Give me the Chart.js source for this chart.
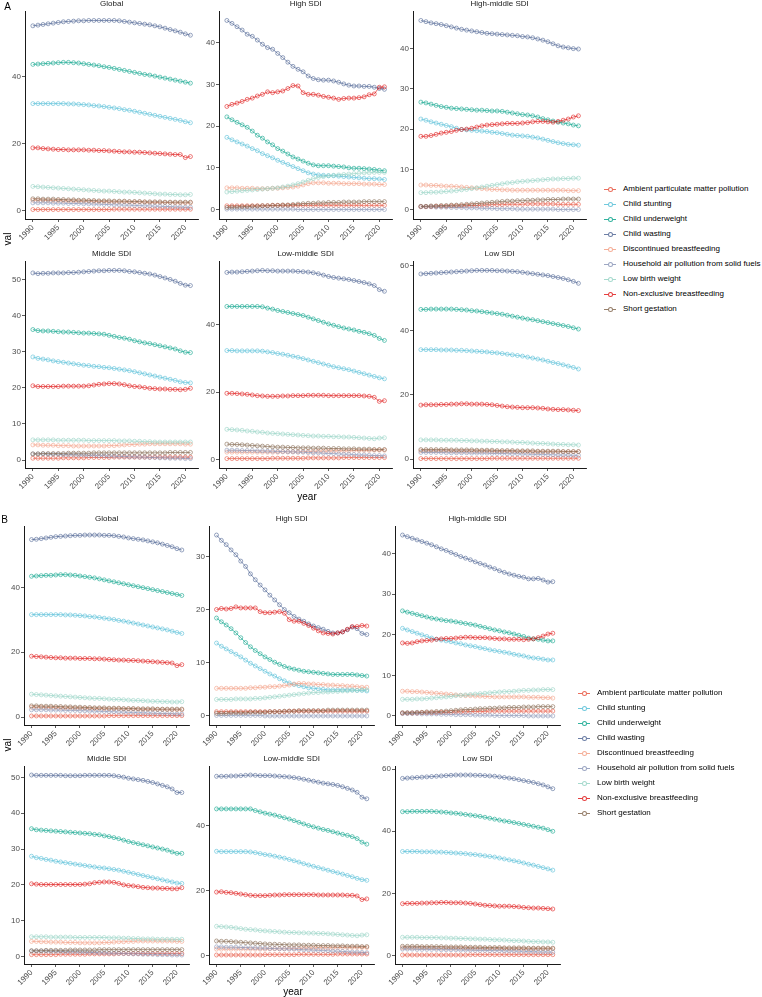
<!DOCTYPE html>
<html><head><meta charset="utf-8">
<script src="https://cdn.jsdelivr.net/npm/chart.js@4/dist/chart.umd.min.js"></script>
<style>
html,body{margin:0;padding:0;background:#fff;}
body{width:762px;height:997px;position:relative;overflow:hidden;font-family:"Liberation Sans",Arial,Helvetica,sans-serif;}
canvas{position:absolute;}
.txt{position:absolute;white-space:nowrap;color:#000;}
</style></head><body>
<script>
// ---------- data ----------
const years=[1990,1991,1992,1993,1994,1995,1996,1997,1998,1999,2000,2001,2002,2003,2004,2005,2006,2007,2008,2009,2010,2011,2012,2013,2014,2015,2016,2017,2018,2019,2020,2021];
const causes=["Ambient particulate matter pollution","Child stunting","Child underweight","Child wasting","Discontinued breastfeeding","Household air pollution from solid fuels","Low birth weight","Non-exclusive breastfeeding","Short gestation"];
const colors=["rgba(230,75,53,0.8)","rgba(77,187,213,0.8)","rgba(0,160,135,0.8)","rgba(60,84,136,0.75)","rgba(243,155,127,0.8)","rgba(132,145,180,0.8)","rgba(145,209,194,0.8)","rgba(220,0,0,0.75)","rgba(126,97,72,0.8)"];
const facetNames=["Global","High SDI","High-middle SDI","Middle SDI","Low-middle SDI","Low SDI"];
const yTickStepA=[20,10,10,10,20,20];
const yTickStepB=[20,10,10,10,20,20];
const xTicks=[1990,1995,2000,2005,2010,2015,2020];

// order of rows in each facet array = order of causes
const A_Global=[
[0.4,0.4,0.4,0.4,0.4,0.4,0.4,0.4,0.4,0.4,0.4,0.4,0.4,0.4,0.4,0.4,0.5,0.5,0.5,0.5,0.5,0.5,0.5,0.5,0.5,0.5,0.5,0.5,0.5,0.5,0.5,0.5],
[32.0,32.0,32.0,32.0,32.0,32.0,32.0,31.9,31.9,31.8,31.7,31.6,31.4,31.3,31.1,30.9,30.7,30.5,30.2,30.0,29.7,29.4,29.1,28.8,28.5,28.2,27.9,27.6,27.3,27.0,26.6,26.3],
[43.7,43.8,43.9,44.0,44.1,44.2,44.3,44.3,44.2,44.1,43.9,43.7,43.5,43.3,43.0,42.8,42.5,42.2,41.9,41.6,41.3,41.0,40.7,40.5,40.2,39.9,39.6,39.3,39.0,38.7,38.4,38.1],
[55.2,55.4,55.6,55.8,56.0,56.2,56.4,56.5,56.6,56.7,56.7,56.8,56.8,56.8,56.8,56.8,56.8,56.7,56.5,56.3,56.1,55.9,55.7,55.5,55.2,54.9,54.5,54.1,53.7,53.3,52.8,52.4],
[3.2,3.2,3.2,3.1,3.1,3.1,3.0,3.0,3.0,2.9,2.9,2.9,2.8,2.8,2.8,2.7,2.7,2.7,2.7,2.6,2.6,2.6,2.6,2.5,2.5,2.5,2.5,2.5,2.4,2.4,2.4,2.4],
[2.4,2.4,2.4,2.4,2.3,2.3,2.3,2.2,2.2,2.2,2.1,2.1,2.0,2.0,1.9,1.9,1.8,1.8,1.7,1.7,1.6,1.6,1.5,1.5,1.4,1.4,1.3,1.3,1.2,1.2,1.1,1.1],
[7.3,7.2,7.1,7.0,6.9,6.8,6.7,6.6,6.5,6.4,6.3,6.2,6.1,6.0,5.9,5.9,5.8,5.7,5.6,5.6,5.5,5.4,5.3,5.2,5.1,5.0,5.0,4.9,4.9,4.8,4.8,4.9],
[18.8,18.8,18.6,18.5,18.4,18.3,18.3,18.2,18.2,18.2,18.2,18.1,18.1,18.0,18.0,17.9,17.8,17.7,17.6,17.6,17.5,17.5,17.4,17.3,17.2,17.1,17.0,16.9,16.8,16.8,15.9,16.2],
[3.6,3.6,3.5,3.5,3.5,3.4,3.4,3.3,3.3,3.2,3.2,3.1,3.1,3.0,3.0,3.0,2.9,2.9,2.9,2.8,2.8,2.8,2.7,2.7,2.7,2.7,2.6,2.6,2.6,2.6,2.6,2.6]];
const A_High=[
[0.9,0.9,0.9,0.9,0.9,0.9,0.9,0.9,0.9,1.0,1.0,1.0,1.0,1.0,1.0,1.0,1.0,1.0,1.0,1.0,1.0,1.0,1.0,1.0,1.0,1.0,1.0,1.0,1.0,1.0,1.0,1.0],
[17.3,16.7,16.2,15.7,15.2,14.6,14.1,13.4,12.9,12.4,11.8,11.3,10.8,10.3,9.8,9.3,8.8,8.5,8.3,8.2,8.1,8.1,8.0,7.9,7.8,7.7,7.6,7.5,7.4,7.4,7.3,7.2],
[22.2,21.5,20.9,20.3,19.7,18.8,17.8,17.1,16.2,15.5,14.6,14.0,13.3,12.6,12.1,11.6,11.1,10.7,10.5,10.5,10.5,10.4,10.3,10.2,10.0,9.9,9.9,9.8,9.7,9.6,9.4,9.3],
[45.3,44.6,43.8,43.0,42.0,41.5,40.6,39.6,38.8,38.4,37.4,36.4,35.3,34.3,33.6,33.0,32.0,31.4,31.1,31.0,31.0,30.8,30.5,30.1,29.8,29.6,29.6,29.5,29.5,29.3,29.0,28.8],
[5.2,5.2,5.2,5.1,5.1,5.1,5.0,5.0,5.0,5.1,5.1,5.2,5.3,5.4,5.6,5.9,6.2,6.4,6.4,6.4,6.3,6.3,6.3,6.2,6.2,6.2,6.2,6.1,6.1,6.1,6.0,6.0],
[0.1,0.1,0.1,0.1,0.1,0.1,0.1,0.1,0.1,0.1,0.1,0.1,0.1,0.1,0.0,0.0,0.0,0.0,0.0,0.0,0.0,0.0,0.0,0.0,0.0,0.0,0.0,0.0,0.0,0.0,0.0,0.0],
[4.2,4.3,4.4,4.5,4.6,4.7,4.8,4.9,5.0,5.1,5.2,5.4,5.6,5.9,6.2,6.6,7.0,7.4,7.7,7.9,8.1,8.2,8.3,8.4,8.5,8.6,8.7,8.8,8.8,8.9,8.9,8.9],
[24.7,25.2,25.5,25.9,26.4,26.7,27.2,27.6,28.2,28.0,28.2,28.4,29.0,29.7,29.6,28.0,27.6,27.6,27.4,27.1,26.9,26.7,26.4,26.6,26.7,26.7,26.8,27.0,27.5,27.7,29.3,29.4],
[0.5,0.6,0.6,0.7,0.7,0.8,0.8,0.9,0.9,1.0,1.0,1.1,1.1,1.2,1.3,1.4,1.5,1.5,1.6,1.6,1.7,1.7,1.7,1.8,1.8,1.8,1.8,1.9,1.9,1.9,1.9,1.9]];
const A_HighMiddle=[
[0.7,0.7,0.7,0.8,0.8,0.8,0.9,0.9,0.9,1.0,1.0,1.0,1.1,1.1,1.2,1.2,1.2,1.3,1.3,1.3,1.3,1.4,1.4,1.4,1.4,1.4,1.4,1.3,1.3,1.3,1.3,1.3],
[22.5,22.2,21.8,21.5,21.2,20.9,20.6,20.2,19.9,19.8,19.7,19.6,19.5,19.4,19.2,19.1,18.9,18.7,18.5,18.4,18.3,18.2,18.0,17.8,17.5,17.2,16.9,16.6,16.4,16.2,16.1,16.0],
[26.7,26.5,26.2,25.9,25.6,25.4,25.2,25.1,25.0,24.9,24.8,24.7,24.7,24.6,24.5,24.5,24.4,24.2,24.0,23.8,23.6,23.5,23.3,23.0,22.6,22.3,22.0,21.7,21.5,21.3,21.0,20.8],
[47.0,46.7,46.4,46.2,46.0,45.7,45.4,45.1,44.8,44.6,44.4,44.2,44.0,43.8,43.7,43.6,43.5,43.4,43.3,43.2,43.0,42.9,42.7,42.4,42.1,41.7,41.2,40.7,40.4,40.2,40.0,39.9],
[6.1,6.1,6.0,6.0,5.9,5.8,5.8,5.7,5.6,5.5,5.4,5.3,5.2,5.1,5.0,5.0,4.9,4.9,4.8,4.8,4.8,4.8,4.8,4.8,4.8,4.8,4.8,4.8,4.8,4.7,4.7,4.7],
[0.7,0.7,0.7,0.6,0.6,0.6,0.5,0.5,0.5,0.4,0.4,0.4,0.3,0.3,0.3,0.2,0.2,0.2,0.2,0.1,0.1,0.1,0.1,0.1,0.1,0.1,0.1,0.0,0.0,0.0,0.0,0.0],
[4.2,4.2,4.3,4.3,4.4,4.5,4.6,4.7,4.9,5.0,5.2,5.4,5.6,5.8,6.0,6.2,6.4,6.6,6.7,6.9,7.0,7.1,7.2,7.3,7.4,7.5,7.6,7.6,7.7,7.7,7.8,7.8],
[18.2,18.2,18.4,18.7,19.0,19.2,19.4,19.7,19.9,20.0,20.2,20.5,20.8,21.0,21.1,21.2,21.3,21.4,21.4,21.4,21.5,21.6,21.8,21.9,21.9,21.8,21.7,21.9,22.2,22.5,23.0,23.3],
[0.8,0.8,0.9,0.9,1.0,1.0,1.1,1.1,1.2,1.3,1.4,1.5,1.6,1.7,1.8,1.9,2.0,2.1,2.1,2.2,2.2,2.3,2.3,2.4,2.4,2.5,2.5,2.5,2.6,2.6,2.6,2.6]];
const A_Middle=[
[0.5,0.5,0.5,0.5,0.5,0.5,0.6,0.6,0.6,0.6,0.6,0.7,0.7,0.7,0.7,0.7,0.8,0.8,0.8,0.8,0.8,0.8,0.8,0.8,0.8,0.8,0.8,0.8,0.8,0.8,0.8,0.8],
[28.6,28.2,28.0,27.8,27.5,27.3,27.1,26.9,26.7,26.5,26.3,26.2,26.0,25.9,25.7,25.6,25.4,25.2,25.0,24.8,24.5,24.2,23.9,23.6,23.3,23.0,22.7,22.4,22.1,21.7,21.5,21.4],
[36.2,35.9,35.8,35.8,35.7,35.6,35.5,35.5,35.4,35.3,35.2,35.2,35.1,35.0,34.9,34.6,34.3,34.0,33.8,33.5,33.1,32.8,32.5,32.3,32.0,31.7,31.4,31.1,30.8,30.3,29.9,29.8],
[51.9,51.7,51.8,51.8,51.9,51.9,51.9,52.0,52.0,52.1,52.2,52.3,52.4,52.5,52.5,52.6,52.6,52.6,52.5,52.3,52.2,52.0,51.8,51.6,51.3,50.9,50.5,50.1,49.6,49.0,48.5,48.4],
[4.2,4.2,4.1,4.1,4.1,4.0,4.0,4.0,3.9,3.9,3.9,3.9,3.9,3.9,3.9,4.0,4.0,4.1,4.2,4.3,4.3,4.4,4.4,4.5,4.5,4.5,4.5,4.5,4.5,4.5,4.4,4.4],
[1.7,1.7,1.7,1.6,1.6,1.6,1.5,1.5,1.5,1.4,1.4,1.3,1.3,1.2,1.2,1.1,1.1,1.0,1.0,0.9,0.9,0.8,0.8,0.7,0.7,0.6,0.6,0.5,0.5,0.5,0.4,0.4],
[5.6,5.6,5.6,5.6,5.6,5.5,5.5,5.5,5.5,5.5,5.5,5.4,5.4,5.4,5.4,5.4,5.4,5.3,5.3,5.3,5.2,5.2,5.1,5.1,5.0,5.0,5.0,5.0,5.0,5.0,5.0,5.0],
[20.6,20.4,20.4,20.4,20.4,20.4,20.5,20.5,20.5,20.5,20.5,20.6,20.8,21.0,21.1,21.2,21.2,21.1,20.9,20.6,20.4,20.3,20.1,19.9,19.8,19.7,19.7,19.6,19.6,19.5,19.6,19.9],
[1.7,1.7,1.8,1.8,1.8,1.8,1.8,1.9,1.9,1.9,1.9,1.9,2.0,2.0,2.0,2.0,2.0,2.0,2.0,2.0,2.0,2.0,2.0,2.0,2.0,2.0,2.0,2.1,2.1,2.1,2.1,2.1]];
const A_LowMiddle=[
[0.3,0.3,0.3,0.3,0.3,0.3,0.3,0.3,0.3,0.4,0.4,0.4,0.4,0.4,0.4,0.4,0.5,0.5,0.5,0.5,0.5,0.5,0.5,0.6,0.6,0.6,0.6,0.6,0.6,0.6,0.6,0.6],
[32.4,32.4,32.3,32.3,32.3,32.3,32.3,32.2,32.0,31.8,31.5,31.3,31.0,30.7,30.4,30.0,29.6,29.2,28.8,28.4,28.0,27.6,27.3,27.0,26.7,26.3,25.9,25.5,25.1,24.7,24.3,24.0],
[45.5,45.5,45.5,45.5,45.5,45.5,45.5,45.4,45.0,44.7,44.3,44.0,43.7,43.4,43.1,42.8,42.3,41.8,41.3,40.8,40.3,39.9,39.5,39.1,38.8,38.5,38.1,37.8,37.4,36.9,36.0,35.4],
[55.6,55.7,55.7,55.8,55.9,56.0,56.1,56.2,56.1,56.1,56.0,56.0,56.0,56.0,55.9,55.8,55.7,55.5,55.2,54.8,54.4,54.1,53.9,53.7,53.5,53.2,52.9,52.6,52.2,51.7,50.5,50.0],
[2.2,2.2,2.2,2.2,2.2,2.2,2.2,2.2,2.2,2.2,2.2,2.3,2.3,2.3,2.3,2.4,2.4,2.4,2.5,2.5,2.5,2.6,2.6,2.6,2.6,2.7,2.7,2.7,2.7,2.8,2.8,2.8],
[2.8,2.8,2.8,2.7,2.7,2.7,2.6,2.6,2.5,2.5,2.4,2.4,2.3,2.3,2.2,2.2,2.1,2.0,2.0,1.9,1.8,1.8,1.7,1.6,1.6,1.5,1.4,1.4,1.3,1.2,1.2,1.1],
[9.0,8.9,8.8,8.7,8.5,8.4,8.2,8.1,7.9,7.8,7.7,7.6,7.5,7.4,7.3,7.2,7.1,7.0,7.0,6.9,6.9,6.8,6.8,6.7,6.7,6.6,6.5,6.4,6.3,6.2,6.4,6.5],
[19.7,19.7,19.6,19.5,19.4,19.2,19.0,18.9,18.8,18.8,18.8,18.9,18.9,19.0,19.0,19.0,19.1,19.1,19.1,19.1,19.0,19.0,19.0,19.0,19.0,19.0,19.0,18.9,18.8,18.5,17.3,17.5],
[4.6,4.5,4.5,4.4,4.3,4.2,4.1,4.0,3.9,3.8,3.7,3.7,3.6,3.6,3.5,3.5,3.5,3.4,3.4,3.4,3.3,3.3,3.3,3.2,3.2,3.2,3.1,3.1,3.1,3.0,3.0,3.0]];
const A_Low=[
[0.2,0.2,0.2,0.2,0.2,0.2,0.2,0.2,0.2,0.2,0.2,0.2,0.2,0.2,0.3,0.3,0.3,0.3,0.3,0.3,0.3,0.3,0.3,0.3,0.3,0.3,0.3,0.3,0.3,0.3,0.3,0.3],
[34.0,34.0,34.0,34.0,33.9,33.9,33.9,33.8,33.8,33.7,33.6,33.5,33.4,33.3,33.1,33.0,32.8,32.6,32.4,32.2,32.0,31.7,31.4,31.1,30.8,30.4,30.0,29.7,29.3,28.9,28.5,28.0],
[46.5,46.5,46.6,46.6,46.6,46.6,46.6,46.5,46.4,46.3,46.1,46.0,45.8,45.6,45.4,45.2,45.0,44.7,44.4,44.1,43.8,43.5,43.3,43.0,42.7,42.4,42.1,41.8,41.5,41.2,40.8,40.4],
[57.5,57.6,57.7,57.8,57.9,58.0,58.1,58.2,58.3,58.4,58.5,58.6,58.6,58.6,58.6,58.5,58.5,58.4,58.3,58.2,58.0,57.8,57.6,57.4,57.2,57.0,56.7,56.4,56.1,55.7,55.2,54.6],
[2.6,2.6,2.6,2.6,2.6,2.6,2.6,2.5,2.5,2.5,2.5,2.5,2.5,2.5,2.4,2.4,2.4,2.4,2.4,2.4,2.4,2.4,2.3,2.3,2.3,2.3,2.3,2.3,2.3,2.3,2.3,2.3],
[2.1,2.1,2.1,2.1,2.1,2.0,2.0,2.0,2.0,2.0,1.9,1.9,1.9,1.9,1.8,1.8,1.8,1.7,1.7,1.7,1.6,1.6,1.5,1.5,1.5,1.4,1.4,1.3,1.3,1.3,1.2,1.2],
[6.0,6.0,6.0,6.0,5.9,5.9,5.9,5.9,5.8,5.8,5.7,5.7,5.6,5.6,5.5,5.5,5.4,5.4,5.3,5.2,5.2,5.1,5.0,4.9,4.9,4.8,4.7,4.6,4.6,4.5,4.5,4.4],
[16.8,16.9,16.9,16.9,17.0,17.0,17.1,17.1,17.2,17.2,17.1,17.1,17.1,17.0,16.9,16.7,16.5,16.3,16.2,16.1,16.0,16.0,16.0,15.9,15.8,15.6,15.5,15.4,15.4,15.3,15.2,15.1],
[3.0,3.0,3.0,3.0,3.0,3.0,2.9,2.9,2.9,2.9,2.9,2.8,2.8,2.8,2.8,2.7,2.7,2.7,2.7,2.6,2.6,2.6,2.6,2.5,2.5,2.5,2.5,2.5,2.4,2.4,2.4,2.4]];

const B_Global=[
[0.4,0.4,0.4,0.4,0.4,0.4,0.4,0.4,0.4,0.4,0.4,0.4,0.4,0.4,0.4,0.4,0.5,0.5,0.5,0.5,0.5,0.5,0.5,0.5,0.5,0.5,0.5,0.5,0.5,0.5,0.5,0.5],
[31.6,31.6,31.6,31.6,31.6,31.6,31.6,31.5,31.5,31.4,31.3,31.2,31.0,30.9,30.7,30.5,30.3,30.1,29.8,29.6,29.3,29.0,28.7,28.4,28.1,27.8,27.5,27.2,26.9,26.5,26.1,25.8],
[43.4,43.5,43.6,43.7,43.7,43.8,43.9,43.9,43.8,43.7,43.5,43.3,43.1,42.9,42.6,42.3,42.0,41.7,41.4,41.1,40.8,40.5,40.2,39.9,39.6,39.3,39.0,38.7,38.4,38.1,37.8,37.5],
[54.7,54.8,55.0,55.2,55.4,55.6,55.7,55.8,55.9,56.0,56.0,56.1,56.1,56.1,56.1,56.0,56.0,55.9,55.7,55.5,55.2,55.0,54.8,54.6,54.3,54.0,53.7,53.3,52.9,52.5,51.9,51.5],
[3.1,3.1,3.1,3.0,3.0,3.0,2.9,2.9,2.9,2.8,2.8,2.8,2.7,2.7,2.7,2.6,2.6,2.6,2.6,2.5,2.5,2.5,2.5,2.4,2.4,2.4,2.4,2.4,2.3,2.3,2.3,2.3],
[2.3,2.3,2.3,2.3,2.2,2.2,2.2,2.1,2.1,2.1,2.0,2.0,1.9,1.9,1.8,1.8,1.7,1.7,1.6,1.6,1.5,1.5,1.4,1.4,1.3,1.3,1.2,1.2,1.1,1.1,1.0,1.0],
[7.1,7.0,6.9,6.8,6.7,6.6,6.5,6.4,6.3,6.2,6.1,6.0,5.9,5.8,5.8,5.7,5.6,5.5,5.5,5.4,5.3,5.2,5.2,5.1,5.0,4.9,4.9,4.8,4.8,4.7,4.7,4.8],
[18.8,18.7,18.6,18.5,18.4,18.3,18.3,18.2,18.2,18.2,18.1,18.1,18.1,18.0,18.0,17.9,17.8,17.7,17.6,17.6,17.5,17.5,17.4,17.3,17.2,17.1,17.0,16.9,16.8,16.7,15.9,16.2],
[3.5,3.5,3.4,3.4,3.4,3.3,3.3,3.2,3.2,3.1,3.1,3.0,3.0,2.9,2.9,2.9,2.8,2.8,2.8,2.7,2.7,2.7,2.6,2.6,2.6,2.6,2.5,2.5,2.5,2.5,2.5,2.5]];
const B_High=[
[0.8,0.8,0.8,0.8,0.8,0.8,0.8,0.8,0.8,0.8,0.8,0.8,0.8,0.8,0.8,0.9,0.9,0.9,0.9,0.9,0.9,0.9,0.9,0.9,0.9,0.9,0.9,0.9,0.9,0.9,0.9,0.9],
[13.7,13.1,12.6,12.1,11.6,11.1,10.5,9.9,9.4,8.9,8.4,7.9,7.5,7.0,6.6,6.2,5.9,5.7,5.5,5.3,5.2,5.1,5.0,4.9,4.9,4.9,4.9,4.9,4.9,4.8,4.8,4.7],
[18.4,17.7,17.1,16.4,15.6,14.7,13.8,13.0,12.3,11.7,11.1,10.6,10.1,9.7,9.3,9.0,8.8,8.6,8.4,8.3,8.2,8.1,8.0,7.9,7.8,7.8,7.8,7.8,7.8,7.7,7.6,7.5],
[34.0,33.0,32.2,31.2,30.3,29.1,28.1,26.7,25.6,24.6,23.7,22.7,21.8,20.9,20.0,19.4,18.7,18.2,17.8,17.3,16.9,16.6,16.3,15.9,15.6,15.6,15.8,16.2,16.7,16.4,15.5,15.3],
[5.2,5.2,5.2,5.2,5.2,5.2,5.2,5.3,5.3,5.4,5.4,5.5,5.5,5.6,5.7,5.8,6.0,6.1,6.1,6.0,6.0,5.9,5.9,5.8,5.8,5.7,5.7,5.6,5.6,5.5,5.4,5.4],
[0.1,0.1,0.1,0.1,0.1,0.1,0.1,0.1,0.1,0.1,0.0,0.0,0.0,0.0,0.0,0.0,0.0,0.0,0.0,0.0,0.0,0.0,0.0,0.0,0.0,0.0,0.0,0.0,0.0,0.0,0.0,0.0],
[3.1,3.1,3.1,3.1,3.2,3.2,3.2,3.2,3.3,3.3,3.4,3.5,3.6,3.7,3.8,3.9,4.0,4.1,4.2,4.3,4.4,4.4,4.5,4.5,4.6,4.6,4.7,4.7,4.8,4.8,4.9,4.9],
[20.0,20.2,20.1,20.2,20.5,20.3,20.3,20.3,20.3,19.6,19.4,19.4,19.5,19.6,19.3,18.1,17.8,17.8,17.4,17.0,16.5,16.0,15.6,15.5,15.4,15.6,15.8,16.3,16.8,16.8,17.0,16.9],
[0.5,0.5,0.5,0.6,0.6,0.6,0.6,0.7,0.7,0.7,0.7,0.8,0.8,0.8,0.9,0.9,0.9,1.0,1.0,1.0,1.0,1.0,1.0,1.1,1.1,1.1,1.1,1.1,1.1,1.1,1.1,1.1]];
const B_HighMiddle=[
[0.7,0.7,0.7,0.7,0.8,0.8,0.8,0.8,0.9,0.9,0.9,1.0,1.0,1.0,1.1,1.1,1.1,1.1,1.2,1.2,1.2,1.2,1.2,1.2,1.2,1.2,1.2,1.2,1.2,1.2,1.2,1.2],
[21.6,21.2,20.8,20.4,20.0,19.6,19.2,18.9,18.7,18.5,18.3,18.0,17.8,17.5,17.3,17.1,16.8,16.6,16.3,16.1,15.9,15.7,15.5,15.2,15.0,14.8,14.5,14.3,14.2,14.0,13.8,13.8],
[25.9,25.6,25.3,25.0,24.7,24.4,24.1,23.9,23.7,23.5,23.4,23.2,23.0,22.8,22.6,22.4,22.1,21.8,21.5,21.2,21.0,20.7,20.5,20.2,19.9,19.6,19.2,19.0,18.9,18.7,18.5,18.5],
[44.6,44.2,43.8,43.4,43.0,42.6,42.2,41.7,41.2,40.8,40.3,39.8,39.3,38.9,38.5,38.0,37.6,37.2,36.7,36.3,35.8,35.4,35.0,34.7,34.4,34.2,33.8,33.8,33.9,33.5,33.0,33.1],
[6.1,6.1,6.0,6.0,5.9,5.8,5.7,5.6,5.5,5.4,5.3,5.2,5.1,5.0,5.0,4.9,4.9,4.8,4.8,4.7,4.7,4.7,4.7,4.7,4.7,4.7,4.6,4.6,4.6,4.5,4.5,4.4],
[0.6,0.6,0.6,0.6,0.5,0.5,0.5,0.5,0.4,0.4,0.4,0.3,0.3,0.3,0.3,0.2,0.2,0.2,0.2,0.1,0.1,0.1,0.1,0.1,0.1,0.1,0.0,0.0,0.0,0.0,0.0,0.0],
[4.1,4.1,4.1,4.2,4.2,4.3,4.4,4.5,4.6,4.7,4.8,5.0,5.1,5.2,5.3,5.4,5.5,5.6,5.7,5.8,5.9,6.0,6.0,6.1,6.2,6.3,6.3,6.4,6.4,6.5,6.5,6.5],
[18.0,17.9,18.0,18.3,18.5,18.6,18.7,18.9,19.0,19.1,19.1,19.2,19.3,19.4,19.4,19.3,19.3,19.3,19.2,19.1,19.0,19.0,18.9,18.9,18.9,18.8,18.9,19.0,19.3,19.7,20.2,20.4],
[0.8,0.8,0.8,0.9,0.9,1.0,1.0,1.1,1.1,1.2,1.3,1.4,1.5,1.6,1.6,1.7,1.8,1.8,1.9,1.9,2.0,2.0,2.1,2.1,2.1,2.2,2.2,2.2,2.3,2.3,2.3,2.3]];
const B_Middle=[
[0.5,0.5,0.5,0.5,0.5,0.5,0.6,0.6,0.6,0.6,0.6,0.6,0.7,0.7,0.7,0.7,0.7,0.7,0.8,0.8,0.8,0.8,0.8,0.8,0.8,0.8,0.8,0.8,0.8,0.8,0.8,0.8],
[28.0,27.6,27.4,27.1,26.9,26.6,26.4,26.2,26.0,25.8,25.6,25.4,25.2,25.0,24.8,24.7,24.5,24.3,24.1,23.8,23.5,23.2,22.9,22.6,22.3,22.0,21.7,21.4,21.1,20.8,20.5,20.4],
[35.7,35.4,35.3,35.2,35.1,35.0,34.9,34.8,34.7,34.6,34.5,34.4,34.3,34.1,34.0,33.7,33.5,33.2,32.9,32.5,32.1,31.8,31.5,31.2,30.9,30.6,30.3,30.0,29.7,29.2,28.8,28.8],
[50.7,50.6,50.6,50.6,50.6,50.6,50.6,50.5,50.5,50.5,50.5,50.6,50.6,50.6,50.6,50.6,50.6,50.5,50.3,50.1,49.8,49.6,49.4,49.2,48.9,48.6,48.2,47.8,47.4,46.8,45.8,45.8],
[4.2,4.2,4.1,4.1,4.0,4.0,4.0,3.9,3.9,3.9,3.8,3.8,3.8,3.8,3.8,3.9,3.9,4.0,4.1,4.1,4.2,4.2,4.3,4.3,4.3,4.3,4.3,4.3,4.3,4.3,4.2,4.2],
[1.5,1.5,1.5,1.5,1.4,1.4,1.4,1.3,1.3,1.3,1.2,1.2,1.1,1.1,1.0,1.0,0.9,0.9,0.9,0.8,0.8,0.7,0.7,0.6,0.6,0.6,0.5,0.5,0.5,0.4,0.4,0.4],
[5.5,5.5,5.5,5.5,5.4,5.4,5.4,5.4,5.4,5.3,5.3,5.3,5.3,5.3,5.3,5.3,5.2,5.2,5.2,5.1,5.1,5.0,5.0,4.9,4.9,4.9,4.8,4.8,4.8,4.8,4.8,4.8],
[20.3,20.2,20.1,20.1,20.1,20.1,20.1,20.1,20.1,20.1,20.1,20.2,20.3,20.6,20.7,20.8,20.8,20.7,20.4,20.0,19.8,19.7,19.5,19.3,19.2,19.1,19.1,19.0,19.0,18.9,18.9,19.2],
[1.6,1.6,1.6,1.7,1.7,1.7,1.7,1.7,1.8,1.8,1.8,1.8,1.8,1.8,1.9,1.9,1.9,1.9,1.9,1.9,1.9,1.9,1.9,1.9,1.9,1.9,1.9,1.9,1.9,1.9,1.9,1.9]];
const B_LowMiddle=[
[0.3,0.3,0.3,0.3,0.3,0.3,0.3,0.3,0.3,0.3,0.4,0.4,0.4,0.4,0.4,0.4,0.4,0.5,0.5,0.5,0.5,0.5,0.5,0.5,0.5,0.6,0.6,0.6,0.6,0.6,0.6,0.6],
[32.1,32.0,32.0,32.0,32.0,32.0,32.0,31.9,31.7,31.4,31.1,30.9,30.6,30.3,30.0,29.6,29.2,28.8,28.3,27.9,27.5,27.1,26.7,26.3,25.9,25.5,25.1,24.7,24.3,23.8,23.4,23.2],
[45.1,45.1,45.1,45.1,45.1,45.1,45.1,45.1,44.6,44.2,43.8,43.5,43.2,42.8,42.4,42.0,41.5,41.0,40.5,40.0,39.6,39.2,38.8,38.5,38.1,37.7,37.3,37.0,36.6,36.0,34.9,34.3],
[55.1,55.1,55.1,55.2,55.2,55.3,55.4,55.5,55.4,55.3,55.3,55.3,55.2,55.1,55.0,54.9,54.7,54.5,54.2,53.9,53.6,53.3,53.0,52.8,52.6,52.3,51.9,51.4,50.9,50.2,48.7,48.2],
[2.1,2.1,2.1,2.1,2.1,2.1,2.1,2.1,2.1,2.1,2.1,2.2,2.2,2.2,2.2,2.3,2.3,2.3,2.4,2.4,2.4,2.5,2.5,2.5,2.5,2.6,2.6,2.6,2.6,2.6,2.6,2.6],
[2.8,2.8,2.7,2.7,2.7,2.6,2.6,2.5,2.5,2.4,2.4,2.3,2.3,2.2,2.2,2.1,2.1,2.0,1.9,1.9,1.8,1.7,1.7,1.6,1.5,1.5,1.4,1.3,1.2,1.2,1.1,1.0],
[9.1,9.0,8.9,8.8,8.6,8.4,8.2,8.1,8.0,7.8,7.7,7.6,7.5,7.4,7.3,7.2,7.2,7.1,7.1,7.0,7.0,6.9,6.9,6.8,6.7,6.6,6.5,6.4,6.3,6.2,6.4,6.5],
[19.6,19.7,19.5,19.4,19.2,19.0,18.8,18.6,18.5,18.5,18.5,18.6,18.7,18.7,18.8,18.8,18.8,18.8,18.8,18.8,18.8,18.7,18.7,18.7,18.7,18.7,18.7,18.6,18.6,18.4,17.3,17.5],
[4.6,4.5,4.5,4.4,4.3,4.2,4.1,4.0,3.9,3.8,3.7,3.6,3.6,3.5,3.5,3.4,3.4,3.4,3.3,3.3,3.3,3.2,3.2,3.2,3.1,3.1,3.1,3.0,3.0,3.0,2.9,2.9]];
const B_Low=[
[0.2,0.2,0.2,0.2,0.2,0.2,0.2,0.2,0.2,0.2,0.2,0.2,0.2,0.2,0.3,0.3,0.3,0.3,0.3,0.3,0.3,0.3,0.3,0.3,0.3,0.3,0.3,0.3,0.3,0.3,0.3,0.3],
[33.5,33.5,33.5,33.5,33.4,33.4,33.4,33.3,33.3,33.2,33.1,33.0,32.9,32.8,32.6,32.5,32.3,32.1,31.9,31.7,31.4,31.1,30.8,30.5,30.2,29.8,29.4,29.1,28.7,28.3,27.9,27.5],
[46.3,46.3,46.4,46.4,46.4,46.4,46.4,46.3,46.2,46.1,45.9,45.8,45.6,45.4,45.2,45.0,44.8,44.5,44.2,43.9,43.6,43.3,43.1,42.8,42.5,42.2,41.9,41.6,41.3,41.0,40.5,40.0],
[57.0,57.1,57.2,57.3,57.4,57.5,57.6,57.7,57.8,57.9,58.0,58.1,58.1,58.1,58.1,58.0,58.0,57.9,57.8,57.7,57.5,57.3,57.1,56.9,56.6,56.3,56.0,55.7,55.3,54.9,54.3,53.7],
[2.5,2.5,2.5,2.5,2.5,2.5,2.5,2.4,2.4,2.4,2.4,2.4,2.4,2.4,2.3,2.3,2.3,2.3,2.3,2.3,2.3,2.3,2.2,2.2,2.2,2.2,2.2,2.2,2.2,2.2,2.2,2.2],
[2.1,2.1,2.1,2.0,2.0,2.0,2.0,2.0,1.9,1.9,1.9,1.9,1.8,1.8,1.8,1.7,1.7,1.7,1.6,1.6,1.6,1.5,1.5,1.5,1.4,1.4,1.3,1.3,1.2,1.2,1.2,1.1],
[5.9,5.9,5.9,5.9,5.8,5.8,5.8,5.8,5.7,5.7,5.6,5.6,5.5,5.5,5.4,5.4,5.3,5.3,5.2,5.1,5.1,5.0,4.9,4.8,4.8,4.7,4.6,4.5,4.5,4.4,4.4,4.3],
[16.7,16.8,16.8,16.8,16.9,16.9,17.0,17.0,17.1,17.1,17.0,17.0,17.0,16.9,16.8,16.6,16.4,16.2,16.1,16.0,15.9,15.9,15.9,15.8,15.7,15.5,15.4,15.3,15.3,15.2,15.1,15.0],
[3.0,3.0,3.0,3.0,2.9,2.9,2.9,2.9,2.9,2.8,2.8,2.8,2.8,2.7,2.7,2.7,2.7,2.6,2.6,2.6,2.6,2.5,2.5,2.5,2.5,2.5,2.4,2.4,2.4,2.4,2.4,2.4]];

// ---------- layout (positions/styles only) ----------
const FONT='"Liberation Sans", Arial, Helvetica, sans-serif';
const YW=18, TH=12, XH=28;
const panels=[
 {label:'A',facets:[A_Global,A_High,A_HighMiddle,A_Middle,A_LowMiddle,A_Low],steps:yTickStepA,
  cols:[25,219,413],colW:176,rows:[[11,208],[261,207]],legendX:610,legendY:189,year:[307,497],val:[8,239],tag:[7.5,6.5]},
 {label:'B',facets:[B_Global,B_High,B_HighMiddle,B_Middle,B_LowMiddle,B_Low],steps:yTickStepB,
  cols:[24,209,395],colW:168,rows:[[526,199],[766,198]],legendX:584,legendY:693,year:[293,991.5],val:[8,745],tag:[4.5,520]}
];

function addText(txt,cx,cy,size,rot,extra){
  const d=document.createElement('div');
  d.className='txt'; d.textContent=txt;
  d.style.fontSize=size+'px'; d.style.lineHeight=size+'px';
  d.style.left=cx+'px'; d.style.top=cy+'px';
  d.style.transform='translate(-50%,-50%)'+(rot?' rotate('+rot+'deg)':'');
  if(extra) Object.assign(d.style,extra);
  document.body.appendChild(d);
}

const span=years[years.length-1]-years[0];
const xMin=years[0]-0.05*span, xMax=years[years.length-1]+0.05*span;

function makeChart(panel,fi){
  const data=panel.facets[fi];
  const col=fi%3,row=Math.floor(fi/3);
  const left=panel.cols[col]-YW, top=panel.rows[row][0]-TH;
  const w=YW+panel.colW, h=TH+panel.rows[row][1]+XH;
  const cv=document.createElement('canvas');
  cv.width=w; cv.height=h;
  cv.style.left=left+'px'; cv.style.top=top+'px'; cv.style.width=w+'px'; cv.style.height=h+'px';
  document.body.appendChild(cv);
  let lo=Infinity,hi=-Infinity;
  data.forEach(s=>s.forEach(v=>{if(v<lo)lo=v;if(v>hi)hi=v;}));
  const pad=(hi-lo)*0.05, ymin=lo-pad, ymax=hi+pad;
  const step=panel.steps[fi]; const yt=[];
  for(let v=0;v<=ymax+1e-9;v+=step){ if(v>=ymin) yt.push(v); }
  const tickFont={family:FONT,size:8};
  new Chart(cv,{
    type:'line',
    data:{datasets:data.map((s,i)=>({
      label:causes[i],
      data:years.map((yr,j)=>({x:yr,y:s[j]})),
      borderColor:colors[i],borderWidth:0.8,
      pointRadius:2,pointBorderWidth:0.7,pointBorderColor:colors[i],pointBackgroundColor:'rgba(255,255,255,0)',
      pointHoverRadius:2,tension:0,fill:false,order:causes.length-i
    }))},
    options:{
      responsive:false,devicePixelRatio:1,animation:false,events:[],
      layout:{padding:0},
      plugins:{
        legend:{display:false},tooltip:{enabled:false},
        title:{display:true,text:facetNames[fi],fullSize:false,color:'#1a1a1a',
          font:{family:FONT,size:8,weight:'normal',lineHeight:1.25},padding:{top:0,bottom:2}}
      },
      scales:{
        x:{type:'linear',min:xMin,max:xMax,
          afterBuildTicks:s=>{s.ticks=xTicks.map(v=>({value:v}));},
          afterFit:s=>{s.height=XH;},
          ticks:{autoSkip:false,maxRotation:45,minRotation:45,padding:1,font:tickFont,color:'#4d4d4d',callback:v=>String(v)},
          grid:{drawOnChartArea:false,drawTicks:true,tickLength:3,color:'#333',lineWidth:0.8},
          border:{display:true,color:'#1a1a1a',width:1}},
        y:{type:'linear',min:ymin,max:ymax,
          afterBuildTicks:s=>{s.ticks=yt.map(v=>({value:v}));},
          afterFit:s=>{s.width=YW;},
          ticks:{padding:1,font:tickFont,color:'#4d4d4d',callback:v=>String(v)},
          grid:{drawOnChartArea:false,drawTicks:true,tickLength:3,color:'#333',lineWidth:0.8},
          border:{display:true,color:'#1a1a1a',width:1}}
      }
    }
  });
}

panels.forEach(p=>{
  for(let fi=0;fi<6;fi++) makeChart(p,fi);
  addText(p.label,p.tag[0],p.tag[1],10,0);
  addText('year',p.year[0],p.year[1],10,0);
  addText('val',p.val[0],p.val[1],10,-90);
  causes.forEach((c,i)=>{
    const y=p.legendY+15*i;
    const ln=document.createElement('div');
    Object.assign(ln.style,{position:'absolute',left:(p.legendX-6)+'px',top:(y-0.5)+'px',width:'12px',height:'1px',background:colors[i]});
    document.body.appendChild(ln);
    const dot=document.createElement('div');
    Object.assign(dot.style,{position:'absolute',left:(p.legendX-2.4)+'px',top:(y-2.4)+'px',width:'3.4px',height:'3.4px',border:'0.7px solid '+colors[i],borderRadius:'50%',background:'#fff'});
    document.body.appendChild(dot);
    const t=document.createElement('div');
    t.className='txt'; t.textContent=c;
    Object.assign(t.style,{left:(p.legendX+13)+'px',top:(y-5)+'px',fontSize:'8px',lineHeight:'10px'});
    document.body.appendChild(t);
  });
});
</script>
</body></html>
